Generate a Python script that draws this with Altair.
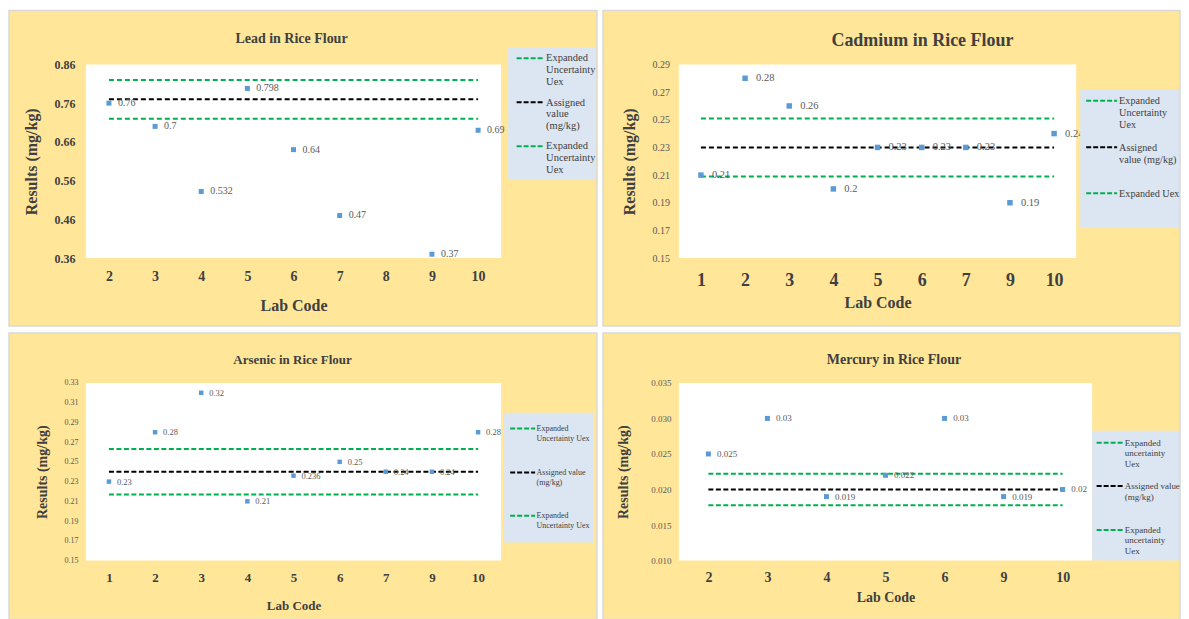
import altair as alt
import pandas as pd

# ---------------- data ----------------
lead_title = "Lead in Rice Flour"
lead_labs = ["2", "3", "4", "5", "6", "7", "9", "10"]
lead_vals = [0.76, 0.70, 0.532, 0.798, 0.64, 0.47, 0.37, 0.69]
lead_axis_labs = ["2", "3", "4", "5", "6", "7", "8", "9", "10"]
lead_lines = [0.82, 0.77, 0.72]          # upper Uex, assigned value, lower Uex
lead_ticks = [0.36, 0.46, 0.56, 0.66, 0.76, 0.86]
lead_legend = ["Expanded\nUncertainty\nUex", "Assigned\nvalue\n(mg/kg)", "Expanded\nUncertainty\nUex"]

cd_title = "Cadmium in Rice Flour"
cd_labs = ["1", "2", "3", "4", "5", "6", "7", "9", "10"]
cd_vals = [0.21, 0.28, 0.26, 0.20, 0.23, 0.23, 0.23, 0.19, 0.24]
cd_axis_labs = ["1", "2", "3", "4", "5", "6", "7", "9", "10"]
cd_lines = [0.251, 0.23, 0.209]
cd_ticks = [0.15, 0.17, 0.19, 0.21, 0.23, 0.25, 0.27, 0.29]
cd_legend = ["Expanded\nUncertainty\nUex", "Assigned\nvalue (mg/kg)", "Expanded Uex"]

as_title = "Arsenic in Rice Flour"
as_labs = ["1", "2", "3", "4", "5", "6", "7", "9", "10"]
as_vals = [0.23, 0.28, 0.32, 0.21, 0.236, 0.25, 0.24, 0.24, 0.28]
as_axis_labs = ["1", "2", "3", "4", "5", "6", "7", "9", "10"]
as_lines = [0.263, 0.24, 0.217]
as_ticks = [0.15, 0.17, 0.19, 0.21, 0.23, 0.25, 0.27, 0.29, 0.31, 0.33]
as_legend = ["Expanded\nUncertainty Uex", "Assigned value\n(mg/kg)", "Expanded\nUncertainty Uex"]

hg_title = "Mercury in Rice Flour"
hg_labs = ["2", "3", "4", "5", "6", "9", "10"]
hg_vals = [0.025, 0.03, 0.019, 0.022, 0.03, 0.019, 0.02]
hg_axis_labs = ["2", "3", "4", "5", "6", "9", "10"]
hg_lines = [0.0222, 0.020, 0.0178]
hg_ticks = [0.010, 0.015, 0.020, 0.025, 0.030, 0.035]
hg_legend = ["Expanded\nuncertainty\nUex", "Assigned value\n(mg/kg)", "Expanded\nuncertainty\nUex"]

# ---------------- style ----------------
FONT = "Liberation Serif"
GOLD = "#FFE699"
BORDER = "#D9D9D9"
LEGBG = "#DCE6F2"
GREEN = "#00B050"
BLACK = "#000000"
BLUE = "#5B9BD5"
DARK = "#404040"
GRAY = "#595959"

L1 = dict(w=416, h=194, gold=(-77, 512, -54, 262), title=(206, -25, 14),
          ylab=(12, "bold", DARK, 11, ".2f"), xlab=(14, 18), ytitle=(16, -54), xtitle=(16, 47),
          pt=(10, 9, 25), dash=[5, 3],
          leg=dict(box=(423, 511, -17, 115), sx=(431.5, 458.5), sy=[-6.3, 38, 82], tx=461, fs=10.5, lh=12))
L2 = dict(w=398, h=194, gold=(-76, 502, -54, 262), title=(244, -23, 18),
          ylab=(10, "normal", GRAY, 9.5, ".2f"), xlab=(18, 22), ytitle=(16, -49), xtitle=(16, 44),
          pt=(10.5, 11, 30), dash=[5, 3],
          leg=dict(box=(402, 501, 25, 163), sx=(408, 439), sy=[36.3, 83, 129], tx=441, fs=10.2, lh=12))
L3 = dict(w=416, h=178, gold=(-77, 512, -50, 237), title=(207, -23, 13),
          ylab=(8, "normal", GRAY, 8, ".2f"), xlab=(13, 17), ytitle=(14, -43), xtitle=(13, 45),
          pt=(8.5, 8, 20), dash=[5, 2.5],
          leg=dict(box=(419, 508, 30, 160), sx=(425, 450), sy=[45.7, 89.7, 133], tx=451.5, fs=8, lh=10.5))
L4 = dict(w=414, h=178, gold=(-76, 502, -50, 237), title=(215.5, -23, 14),
          ylab=(9, "normal", GRAY, 8, ".3f"), xlab=(14, 17), ytitle=(14, -55), xtitle=(14, 37),
          pt=(9, 8.6, 25), dash=[5, 2.5],
          leg=dict(box=(414, 501, 48, 178), sx=(418.5, 445), sy=[60, 103.3, 147.3], tx=446.7, fs=9, lh=10.7))

ONE = pd.DataFrame({"k": [0]})


def panel(title, labs, vals, axis_labs, lines, ticks, legend_labels, L):
    w, h = L["w"], L["h"]
    df = pd.DataFrame({"lab": labs, "result": vals, "label": [str(v) for v in vals]})
    first, last = axis_labs[0], axis_labs[-1]
    green_df = pd.DataFrame({"lab": [first, first], "lab_end": [last, last], "result": [lines[0], lines[2]]})
    black_df = pd.DataFrame({"lab": [first], "lab_end": [last], "result": [lines[1]]})

    ylf, ylw, ylc, ylp, yfmt = L["ylab"]
    xlf, xlp = L["xlab"]
    ytf, ytx = L["ytitle"]
    xtf, xty = L["xtitle"]

    xs = alt.Scale(type="point", domain=axis_labs, padding=0.5)
    ys = alt.Scale(domain=[ticks[0], ticks[-1]], nice=False, zero=False)
    xaxis = alt.Axis(title="Lab Code", labelAngle=0, ticks=False, domain=False, grid=False,
                     labelFont=FONT, labelFontSize=xlf, labelFontWeight="bold", labelColor=DARK,
                     labelPadding=xlp, labelBaseline="middle",
                     titleFont=FONT, titleFontSize=xtf, titleFontWeight="bold", titleColor=DARK,
                     titleX=w / 2, titleY=xty, titleAlign="center", titleBaseline="middle", zindex=1)
    yaxis = alt.Axis(title="Results (mg/kg)", values=ticks, format=yfmt, ticks=False, domain=False, grid=False,
                     labelFont=FONT, labelFontSize=ylf, labelFontWeight=ylw, labelColor=ylc, labelPadding=ylp,
                     titleFont=FONT, titleFontSize=ytf, titleFontWeight="bold", titleColor=DARK,
                     titleX=ytx, titleY=h / 2, titleAngle=270, titleAlign="center", titleBaseline="middle",
                     zindex=1)

    def X(f):
        return alt.X(f, type="ordinal", scale=xs, axis=xaxis)

    def Y(f):
        return alt.Y(f, type="quantitative", scale=ys, axis=yaxis)

    gx1, gx2, gy1, gy2 = L["gold"]
    gold = alt.Chart(ONE).mark_rect(color=GOLD, stroke=BORDER, strokeWidth=1.5).encode(
        x=alt.value(gx1), x2=alt.value(gx2), y=alt.value(gy1), y2=alt.value(gy2))
    white = alt.Chart(ONE).mark_rect(color="white").encode(
        x=alt.value(0), x2=alt.value(w), y=alt.value(0), y2=alt.value(h))

    green = alt.Chart(green_df).mark_rule(color=GREEN, strokeWidth=2, strokeDash=L["dash"]).encode(
        x=X("lab"), x2=alt.X2("lab_end"), y=Y("result"))
    black = alt.Chart(black_df).mark_rule(color=BLACK, strokeWidth=2, strokeDash=L["dash"]).encode(
        x=X("lab"), x2=alt.X2("lab_end"), y=Y("result"))

    pfs, pdx, psz = L["pt"]
    points = alt.Chart(df).mark_square(color=BLUE, size=psz, opacity=1).encode(x=X("lab"), y=Y("result"))
    texts = alt.Chart(df).mark_text(font=FONT, fontSize=pfs, color=GRAY, align="left", baseline="middle",
                                    dx=pdx).encode(x=X("lab"), y=Y("result"), text="label:N")

    tx, ty, tfs = L["title"]
    ttl = alt.Chart(ONE).mark_text(text=title, font=FONT, fontSize=tfs, fontWeight="bold", color=DARK,
                                   align="center", baseline="middle").encode(x=alt.value(tx), y=alt.value(ty))

    lg = L["leg"]
    bx1, bx2, by1, by2 = lg["box"]
    legbox = alt.Chart(ONE).mark_rect(color=LEGBG).encode(
        x=alt.value(bx1), x2=alt.value(bx2), y=alt.value(by1), y2=alt.value(by2))
    leg_layers = [legbox]
    leg_colors = [GREEN, BLACK, GREEN]
    for i, lab in enumerate(legend_labels):
        sy = lg["sy"][i]
        leg_layers.append(
            alt.Chart(ONE).mark_rule(color=leg_colors[i], strokeWidth=2, strokeDash=[5, 2]).encode(
                x=alt.value(lg["sx"][0]), x2=alt.value(lg["sx"][1]), y=alt.value(sy)))
        leg_layers.append(
            alt.Chart(ONE).mark_text(font=FONT, fontSize=lg["fs"], lineHeight=lg["lh"], color=DARK,
                                     align="left", baseline="top", lineBreak="\n").encode(
                x=alt.value(lg["tx"]), y=alt.value(sy - 0.46 * lg["fs"]), text=alt.value(lab)))

    return alt.layer(gold, white, green, black, points, texts, *leg_layers, ttl).properties(width=w, height=h)


p1 = panel(lead_title, lead_labs, lead_vals, lead_axis_labs, lead_lines, lead_ticks, lead_legend, L1)
p2 = panel(cd_title, cd_labs, cd_vals, cd_axis_labs, cd_lines, cd_ticks, cd_legend, L2)
p3 = panel(as_title, as_labs, as_vals, as_axis_labs, as_lines, as_ticks, as_legend, L3)
p4 = panel(hg_title, hg_labs, hg_vals, hg_axis_labs, hg_lines, hg_ticks, hg_legend, L4)

chart = alt.concat(p1, p2, p3, p4, columns=2, spacing={"row": 125, "column": 178}, bounds="flush").properties(
    padding={"left": 0, "top": 1, "right": 0, "bottom": 0},
    background="white",
).configure_view(stroke=None, fill="white")

chart.save("out.html", embed_options={"renderer": "svg", "actions": False})
